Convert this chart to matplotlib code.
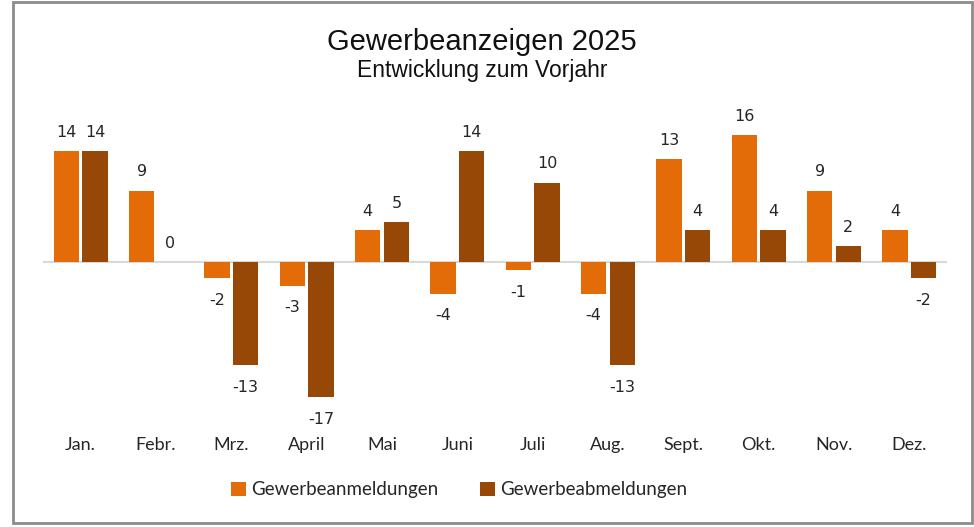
import matplotlib.pyplot as plt
import numpy as np
from matplotlib.patches import Rectangle

months = ["Jan.", "Febr.", "Mrz.", "April", "Mai", "Juni", "Juli", "Aug.", "Sept.", "Okt.", "Nov.", "Dez."]
anmeldungen = [14, 9, -2, -3, 4, -4, -1, -4, 13, 16, 9, 4]
abmeldungen = [14, 0, -13, -17, 5, 14, 10, -13, 4, 4, 2, -2]

c_an = "#E36C09"
c_ab = "#974706"

fig = plt.figure(figsize=(9.74, 5.27), dpi=100)
ax = fig.add_axes([43 / 974, 0.2019, 904 / 974, 0.602])

x = np.arange(len(months))
w = 0.34
off = 0.19
b1 = ax.bar(x - off, anmeldungen, w, color=c_an, linewidth=0, label="Gewerbeanmeldungen")
b2 = ax.bar(x + off, abmeldungen, w, color=c_ab, linewidth=0, label="Gewerbeabmeldungen")

for bars, vals in ((b1, anmeldungen), (b2, abmeldungen)):
    for rect, v in zip(bars, vals):
        dy = 13.5 if v >= 0 else -16
        ax.annotate(str(v), (rect.get_x() + rect.get_width() / 2, v),
                    xytext=(0, dy), textcoords="offset points",
                    ha="center", va="center", fontsize=11.5,
                    family="DejaVu Sans", color="#262626")

ax.axhline(0, color="#d9d9d9", lw=1.5, zorder=0)
ax.set_xlim(-0.5, len(months) - 0.5)
ax.set_ylim(-20, 20)
ax.set_yticks([])
ax.set_xticks(x)
ax.set_xticklabels(months, family="Lato", fontsize=13, color="#262626")
ax.tick_params(axis="x", length=0, pad=12)
for s in ax.spines.values():
    s.set_visible(False)

fig.text(482 / 974, 1 - 42 / 527, "Gewerbeanzeigen 2025", ha="center", va="center",
         family="Liberation Sans", fontsize=21, color="#111111")
fig.text(482 / 974, 1 - 70 / 527, "Entwicklung zum Vorjahr", ha="center", va="center",
         family="Liberation Sans", fontsize=16.5, color="#111111")

leg = fig.legend(loc="center", bbox_to_anchor=(459 / 974, 1 - 490 / 527), ncol=2,
                 frameon=False, prop={"family": "Lato", "size": 13.5},
                 handlelength=0.8, handleheight=0.8, handletextpad=0.3, columnspacing=2.2)
for t in leg.get_texts():
    t.set_color("#262626")

fig.patches.append(Rectangle((13 / 974, 4 / 527), 959 / 974, 521 / 527, transform=fig.transFigure,
                             fill=False, edgecolor="#8c8c8c", lw=2))

fig.savefig("out.png", dpi=100)
